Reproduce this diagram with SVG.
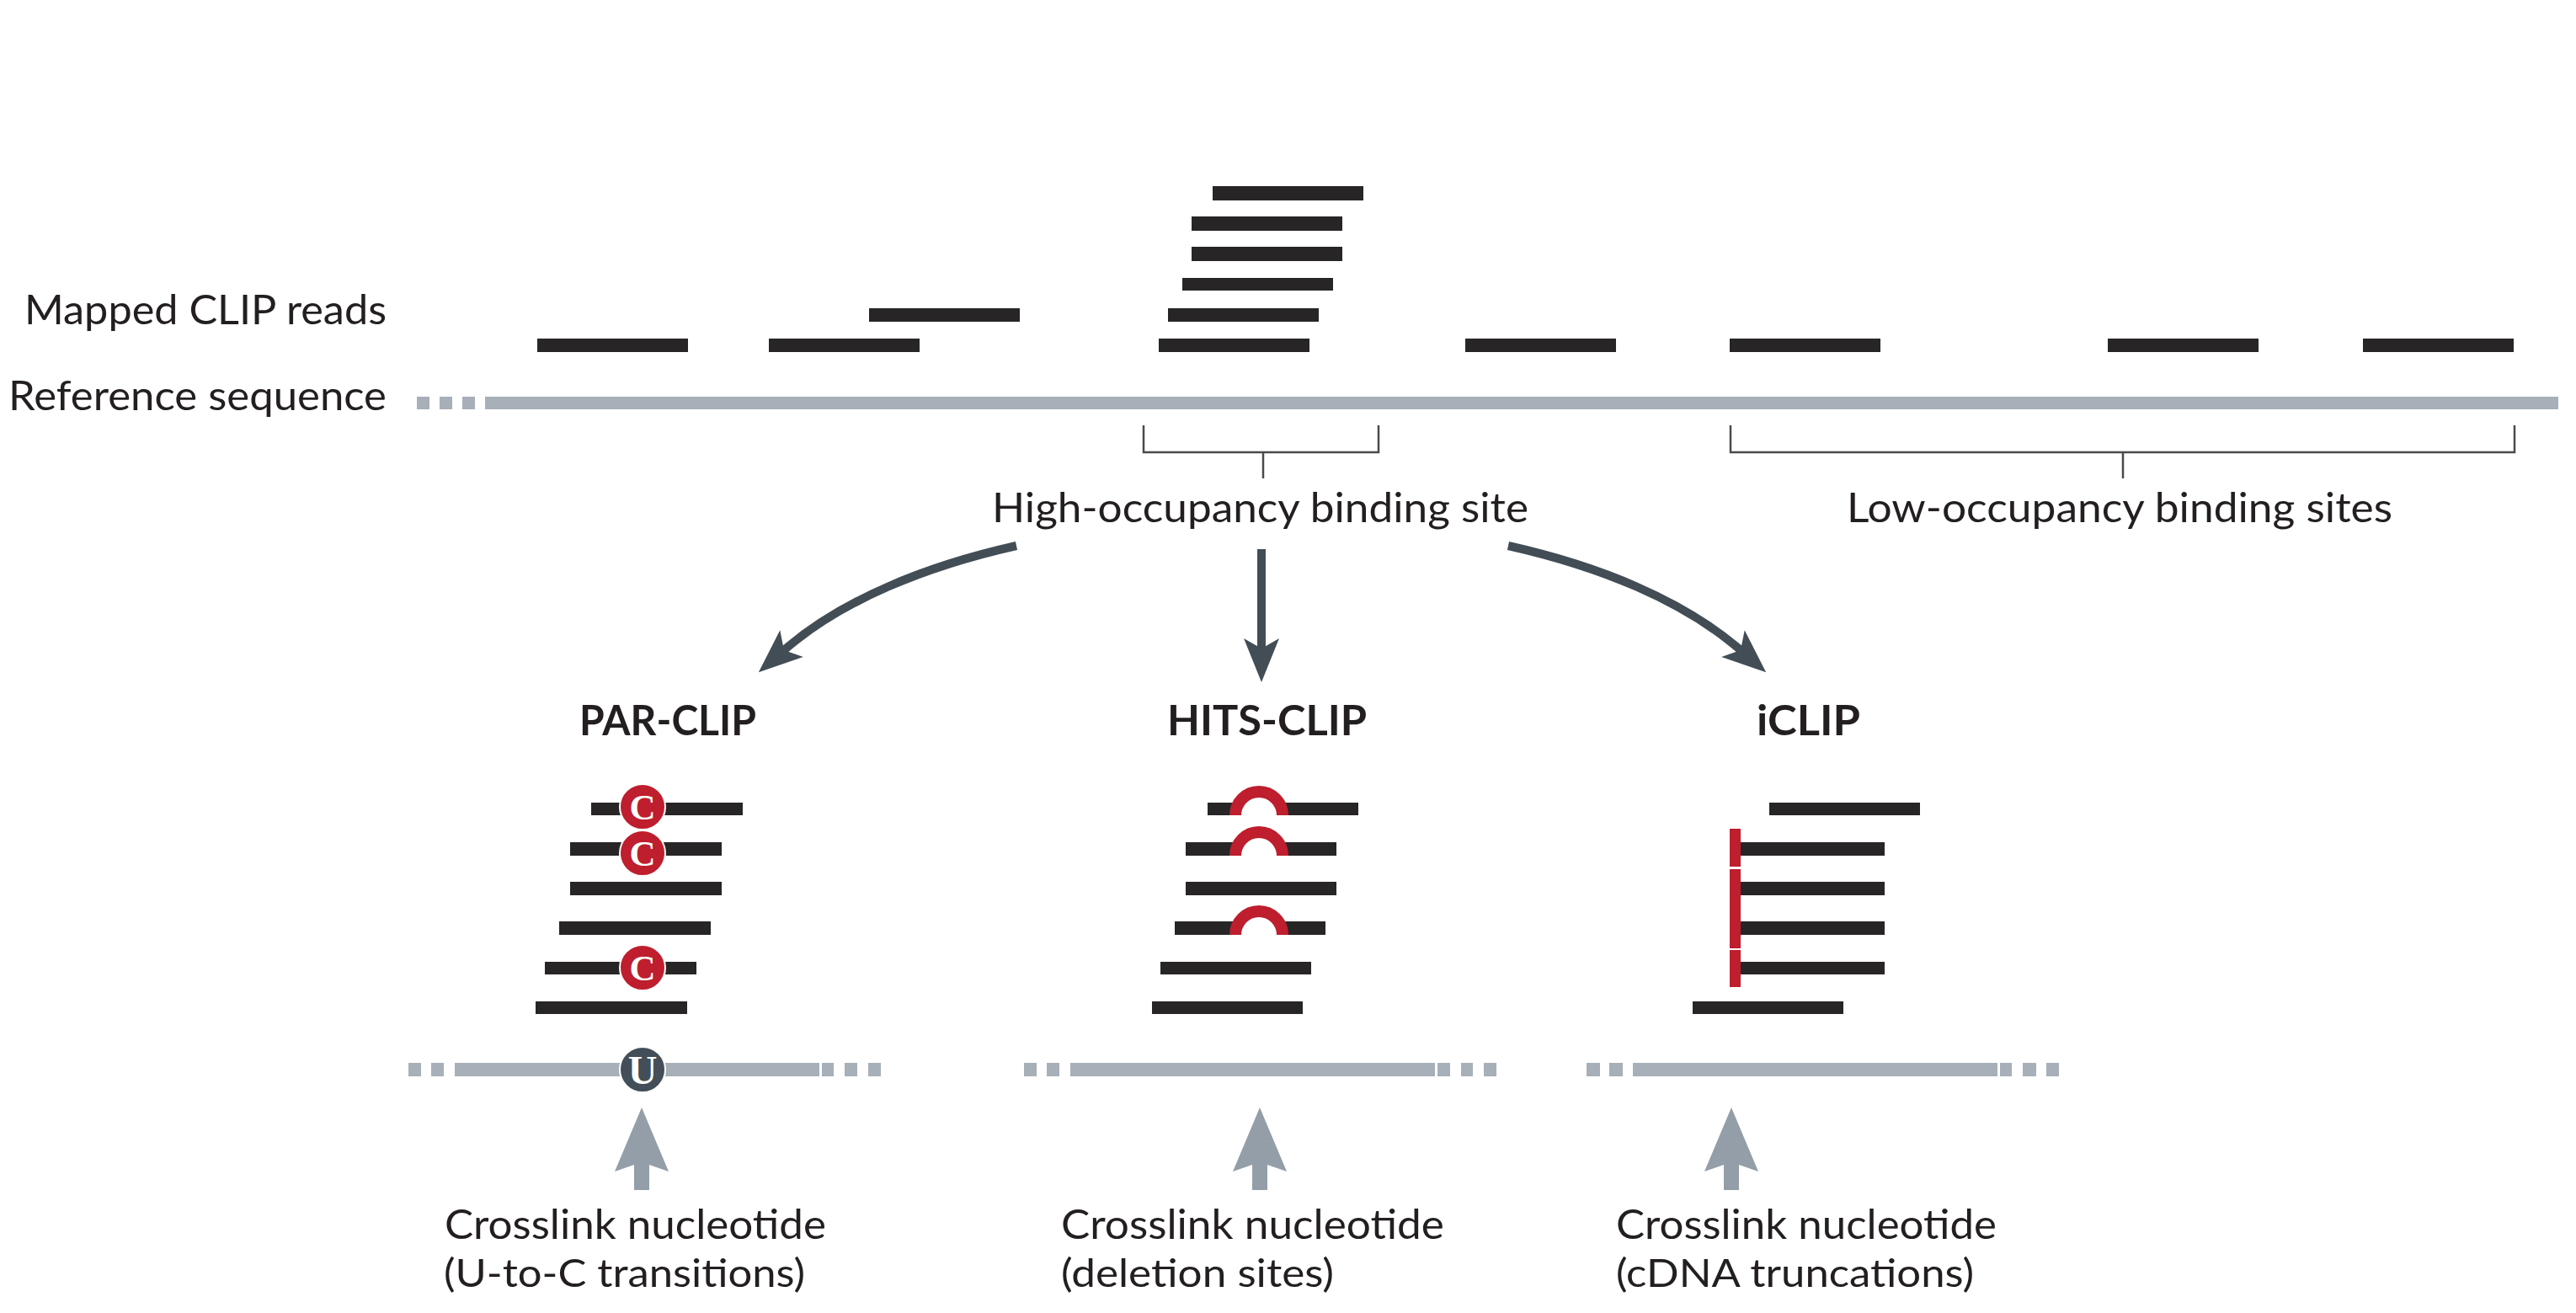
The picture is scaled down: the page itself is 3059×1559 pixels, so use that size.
<svg xmlns="http://www.w3.org/2000/svg" width="3059" height="1559" viewBox="0 0 3059 1559">
<defs>
<style>
.lbl{font-family:Lato,"Open Sans","Liberation Sans",sans-serif;font-size:49px;fill:#231f20;}
.sub{font-family:Lato,"Open Sans","Liberation Sans",sans-serif;font-size:47px;fill:#231f20;}
.ttl{font-family:Lato,"Open Sans","Liberation Sans",sans-serif;font-size:49px;font-weight:bold;fill:#231f20;}
.read{fill:#272526;}
.ref{fill:#a7b0b9;}
.brk{fill:none;stroke:#4a4a4a;stroke-width:2.5;}
.conn{fill:none;stroke:#434d56;stroke-width:10;}
.up{fill:#939ea8;}
.cc{fill:#be1e2d;stroke:#fff;stroke-width:2;}
.uc{fill:#434e58;stroke:#fff;stroke-width:2;}
.glyph{font-family:"Liberation Serif","DejaVu Serif",serif;font-weight:bold;fill:#fff;text-anchor:middle;}
.del{fill:#fff;stroke:#be1e2d;stroke-width:14;}
.trunc{fill:#be1e2d;}
</style>
<marker id="ah" markerUnits="userSpaceOnUse" markerWidth="80" markerHeight="80" refX="0" refY="0" orient="auto" viewBox="-20 -40 80 80" overflow="visible">
<path d="M40,0 L-12,-21 L0,0 L-12,21 Z" fill="#434d56"/>
</marker>
</defs>
<rect width="3059" height="1559" fill="#fff"/>

<g id="label-mapped"><text class="lbl" x="29" y="385" textLength="430" lengthAdjust="spacingAndGlyphs">Mapped CLIP reads</text></g>
<g id="label-reference"><text class="lbl" x="10" y="487" textLength="449" lengthAdjust="spacingAndGlyphs">Reference sequence</text></g>

<g id="reference-sequence">
<rect class="ref" x="495" y="471" width="15" height="15"/>
<rect class="ref" x="522" y="471" width="15" height="15"/>
<rect class="ref" x="549" y="471" width="15" height="15"/>
<rect class="ref" x="576" y="471" width="2462" height="15"/>
</g>

<g id="mapped-reads">
<rect class="read" x="638" y="402" width="179" height="16"/>
<rect class="read" x="913" y="402" width="179" height="16"/>
<rect class="read" x="1032" y="366" width="179" height="16"/>
<rect class="read" x="1440" y="221" width="179" height="17"/>
<rect class="read" x="1415" y="257" width="179" height="17"/>
<rect class="read" x="1415" y="293" width="179" height="17"/>
<rect class="read" x="1404" y="330" width="179" height="15"/>
<rect class="read" x="1387" y="366" width="179" height="16"/>
<rect class="read" x="1376" y="402" width="179" height="16"/>
<rect class="read" x="1740" y="402" width="179" height="16"/>
<rect class="read" x="2054" y="402" width="179" height="16"/>
<rect class="read" x="2503" y="402" width="179" height="16"/>
<rect class="read" x="2806" y="402" width="179" height="16"/>
</g>

<g id="high-occupancy-site">
<path class="brk" d="M1358,505 V537 H1637 V505 M1500,537 V568"/>
<text class="lbl" x="1178" y="620" textLength="637" lengthAdjust="spacingAndGlyphs">High-occupancy binding site</text>
</g>
<g id="low-occupancy-sites">
<path class="brk" d="M2055,505 V537 H2986 V505 M2521,537 V568"/>
<text class="lbl" x="2193" y="620" textLength="648" lengthAdjust="spacingAndGlyphs">Low-occupancy binding sites</text>
</g>

<g id="connectors">
<path class="conn" d="M1207,648 C1100,672 1000,712 931,772" marker-end="url(#ah)"/>
<path class="conn" d="M1498,652 V770" marker-end="url(#ah)"/>
<path class="conn" d="M1791,648 C1898,672 1998,712 2067,772" marker-end="url(#ah)"/>
</g>

<g id="par-clip">
<text class="ttl" x="688" y="873" textLength="210" lengthAdjust="spacingAndGlyphs">PAR-CLIP</text>
<rect class="read" x="702" y="953" width="180" height="15"/>
<rect class="read" x="677" y="1000" width="180" height="16"/>
<rect class="read" x="677" y="1047" width="180" height="16"/>
<rect class="read" x="664" y="1094" width="180" height="16"/>
<rect class="read" x="647" y="1142" width="180" height="15"/>
<rect class="read" x="636" y="1189" width="180" height="15"/>
<circle class="cc" cx="763" cy="958" r="27"/><text class="glyph" x="763" y="973" font-size="43">C</text>
<circle class="cc" cx="763" cy="1013" r="27"/><text class="glyph" x="763" y="1028" font-size="43">C</text>
<circle class="cc" cx="763" cy="1149" r="27"/><text class="glyph" x="763" y="1164" font-size="43">C</text>
<rect class="ref" x="485" y="1262" width="15" height="16"/>
<rect class="ref" x="512" y="1262" width="15" height="16"/>
<rect class="ref" x="540" y="1262" width="433" height="16"/>
<rect class="ref" x="976" y="1262" width="14" height="16"/>
<rect class="ref" x="1003" y="1262" width="15" height="16"/>
<rect class="ref" x="1031" y="1262" width="15" height="16"/>
<circle class="uc" cx="763" cy="1270" r="27"/><text class="glyph" x="763" y="1287" font-size="48">U</text>
<path class="up" d="M762,1315 L794,1391 L771,1383 L771,1413 L753,1413 L753,1383 L730,1391 Z"/>
<text class="lbl" x="528" y="1471" textLength="453" lengthAdjust="spacingAndGlyphs">Crosslink nucleotide</text>
<text class="sub" x="527" y="1528" textLength="429" lengthAdjust="spacingAndGlyphs">(U-to-C transitions)</text>
</g>

<g id="hits-clip">
<text class="ttl" x="1386" y="873" textLength="237" lengthAdjust="spacingAndGlyphs">HITS-CLIP</text>
<rect class="read" x="1434" y="953" width="179" height="15"/>
<rect class="read" x="1408" y="1000" width="179" height="16"/>
<rect class="read" x="1408" y="1047" width="179" height="16"/>
<rect class="read" x="1395" y="1094" width="179" height="16"/>
<rect class="read" x="1378" y="1142" width="179" height="15"/>
<rect class="read" x="1368" y="1189" width="179" height="15"/>
<path class="del" d="M1467,968 A28,28 0 0 1 1523,968"/>
<path class="del" d="M1467,1016 A28,28 0 0 1 1523,1016"/>
<path class="del" d="M1467,1110 A28,28 0 0 1 1523,1110"/>
<rect class="ref" x="1216" y="1262" width="15" height="16"/>
<rect class="ref" x="1243" y="1262" width="15" height="16"/>
<rect class="ref" x="1271" y="1262" width="433" height="16"/>
<rect class="ref" x="1707" y="1262" width="15" height="16"/>
<rect class="ref" x="1735" y="1262" width="14" height="16"/>
<rect class="ref" x="1762" y="1262" width="15" height="16"/>
<path class="up" d="M1496,1315 L1528,1391 L1505,1383 L1505,1413 L1487,1413 L1487,1383 L1464,1391 Z"/>
<text class="lbl" x="1260" y="1471" textLength="455" lengthAdjust="spacingAndGlyphs">Crosslink nucleotide</text>
<text class="sub" x="1260" y="1528" textLength="324" lengthAdjust="spacingAndGlyphs">(deletion sites)</text>
</g>

<g id="iclip">
<text class="ttl" x="2086" y="873" textLength="123" lengthAdjust="spacingAndGlyphs">iCLIP</text>
<rect class="read" x="2101" y="953" width="179" height="15"/>
<rect class="read" x="2067" y="1000" width="171" height="16"/>
<rect class="read" x="2067" y="1047" width="171" height="16"/>
<rect class="read" x="2067" y="1094" width="171" height="16"/>
<rect class="read" x="2067" y="1142" width="171" height="15"/>
<rect class="read" x="2010" y="1189" width="179" height="15"/>
<rect class="trunc" x="2054" y="984" width="13" height="45"/>
<rect class="trunc" x="2054" y="1032" width="13" height="94"/>
<rect class="trunc" x="2054" y="1128" width="13" height="44"/>
<rect class="ref" x="1884" y="1262" width="16" height="16"/>
<rect class="ref" x="1911" y="1262" width="16" height="16"/>
<rect class="ref" x="1939" y="1262" width="433" height="16"/>
<rect class="ref" x="2375" y="1262" width="14" height="16"/>
<rect class="ref" x="2402" y="1262" width="16" height="16"/>
<rect class="ref" x="2430" y="1262" width="15" height="16"/>
<path class="up" d="M2056,1315 L2088,1391 L2065,1383 L2065,1413 L2047,1413 L2047,1383 L2024,1391 Z"/>
<text class="lbl" x="1919" y="1471" textLength="452" lengthAdjust="spacingAndGlyphs">Crosslink nucleotide</text>
<text class="sub" x="1919" y="1528" textLength="425" lengthAdjust="spacingAndGlyphs">(cDNA truncations)</text>
</g>
</svg>
